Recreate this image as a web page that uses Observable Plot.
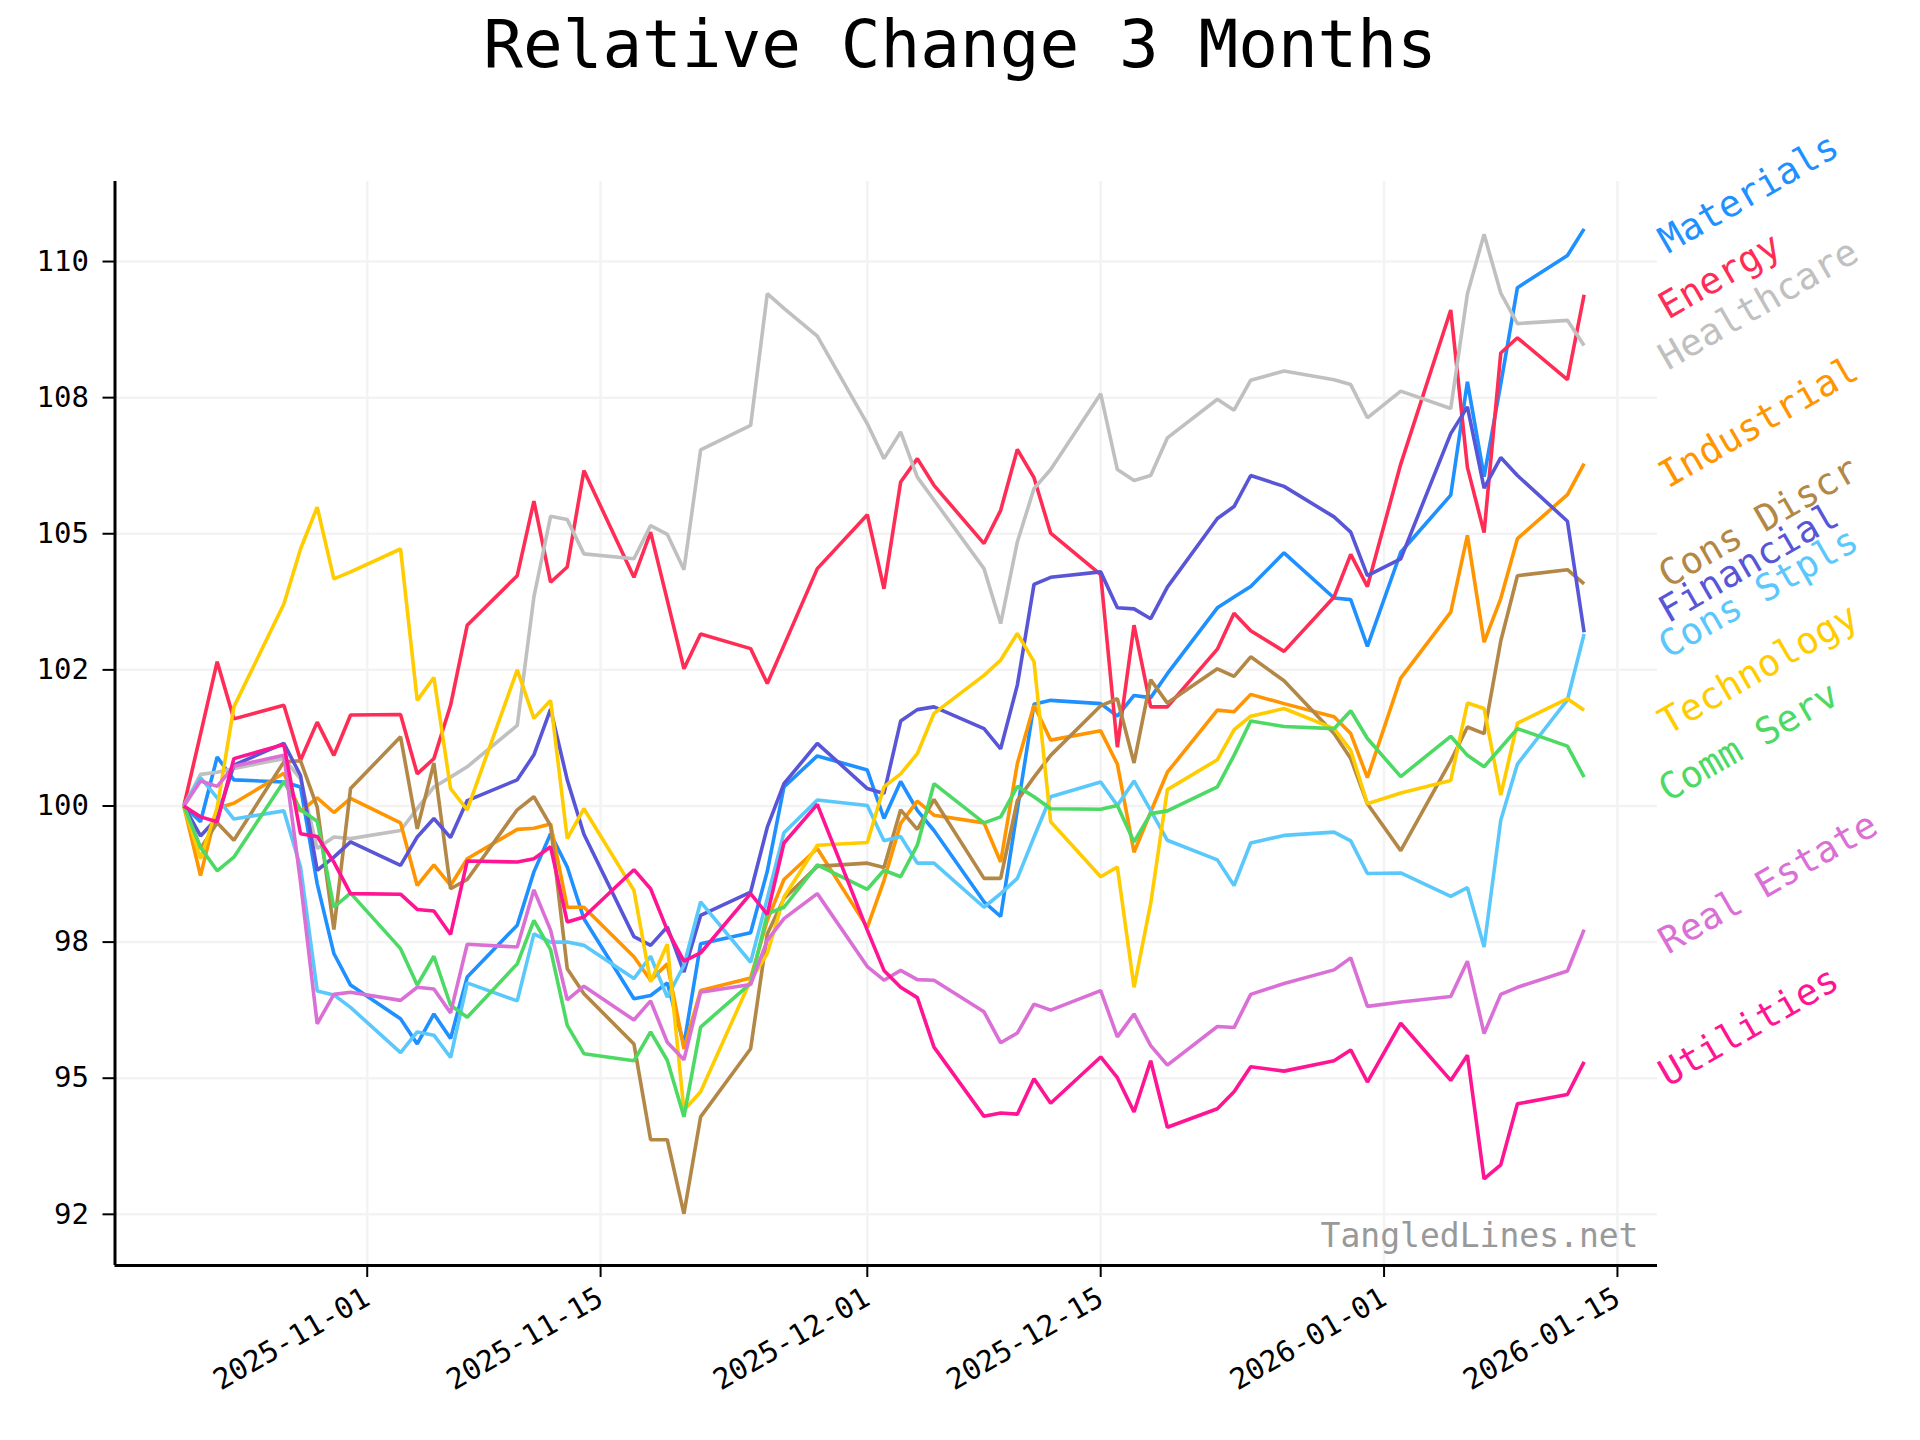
<!DOCTYPE html>
<html>
<head>
<meta charset="utf-8">
<script src="https://cdn.jsdelivr.net/npm/d3@7"></script>
<script src="https://cdn.jsdelivr.net/npm/@observablehq/plot@0.6"></script>
<style>
  html, body { margin: 0; padding: 0; background: #ffffff; }
  #wrap { width: 1920px; }
  #title { height: 120px; line-height: 90px; text-align: center; font-family: "DejaVu Sans Mono", monospace; font-size: 66px; color: #000; }
</style>
</head>
<body>
<div id="wrap">
  <div id="title">Relative Change 3 Months</div>
  <div id="chart"></div>
</div>
<script>
const dates = ["2025-10-21","2025-10-22","2025-10-23","2025-10-24","2025-10-27","2025-10-28","2025-10-29","2025-10-30","2025-10-31",
"2025-11-03","2025-11-04","2025-11-05","2025-11-06","2025-11-07","2025-11-10","2025-11-11","2025-11-12","2025-11-13","2025-11-14",
"2025-11-17","2025-11-18","2025-11-19","2025-11-20","2025-11-21","2025-11-24","2025-11-25","2025-11-26","2025-11-28",
"2025-12-01","2025-12-02","2025-12-03","2025-12-04","2025-12-05","2025-12-08","2025-12-09","2025-12-10","2025-12-11","2025-12-12",
"2025-12-15","2025-12-16","2025-12-17","2025-12-18","2025-12-19","2025-12-22","2025-12-23","2025-12-24","2025-12-26",
"2025-12-29","2025-12-30","2025-12-31","2026-01-02","2026-01-05","2026-01-06","2026-01-07","2026-01-08","2026-01-09","2026-01-12","2026-01-13"];

const seriesNames = ["Materials","Energy","Healthcare","Industrial","Cons Discr","Financial","Cons Stpls","Technology","Comm Serv","Real Estate","Utilities"];
const seriesColors = ["#1E90FF","#FF2D55","#C0C0C0","#FF9500","#B38746","#5856D6","#5AC8FA","#FFCC00","#4CD964","#DA70D6","#FF1493"];

const materials = [100,99.71,100.90,100.48,100.44,100.35,98.57,97.29,96.71,96.09,95.63,96.18,95.73,96.86,97.81,98.79,99.49,98.88,97.93,96.46,96.52,96.75,95.62,97.47,97.67,98.80,100.35,100.92,100.66,99.77,100.45,99.92,99.55,98.24,97.97,99.93,101.87,101.94,101.88,101.65,102.03,101.99,102.43,103.64,103.84,104.03,104.65,103.82,103.79,102.93,104.66,105.71,107.79,106.05,107.75,109.52,110.11,110.60];
const energy = [100,101.32,102.65,101.60,101.85,100.84,101.54,100.93,101.67,101.68,100.59,100.87,101.85,103.32,104.23,105.60,104.11,104.39,106.16,104.20,105.03,103.78,102.52,103.16,102.89,102.25,102.95,104.36,105.35,103.99,105.95,106.38,105.89,104.82,105.43,106.55,106.03,105.01,104.25,101.08,103.32,101.82,101.82,102.88,103.54,103.22,102.84,103.84,104.62,104.03,106.28,109.11,106.22,105.02,108.32,108.60,107.83,109.39];
const healthcare = [100,100.58,100.62,100.69,100.87,100.50,99.22,99.43,99.40,99.55,99.95,100.35,100.53,100.72,101.48,103.84,105.32,105.26,104.63,104.54,105.15,104.99,104.34,106.54,106.99,109.41,109.14,108.63,107.02,106.38,106.87,106.04,105.62,104.36,103.35,104.85,105.83,106.18,107.57,106.18,105.98,106.07,106.76,107.47,107.27,107.82,107.99,107.83,107.74,107.13,107.62,107.30,109.41,110.50,109.42,108.86,108.92,108.46];
const industrial = [100,98.72,99.96,100.05,100.60,99.90,100.15,99.88,100.14,99.69,98.54,98.92,98.54,99.03,99.57,99.59,99.67,98.14,98.14,97.23,96.80,97.10,95.54,96.61,96.84,97.90,98.65,99.22,97.77,98.63,99.68,100.09,99.83,99.69,98.97,100.78,101.85,101.21,101.38,100.77,99.15,99.89,100.62,101.76,101.73,102.05,101.88,101.64,101.33,100.52,102.35,103.56,104.97,103.01,103.81,104.91,105.72,106.29];
const consDiscr = [100,99.22,99.69,99.37,100.81,100.83,99.98,97.73,100.32,101.27,99.58,100.79,98.48,98.65,99.93,100.17,99.64,97.01,96.55,95.63,93.87,93.87,92.51,94.29,95.54,97.65,98.30,98.89,98.95,98.87,99.93,99.57,100.12,98.67,98.67,100.10,100.53,100.93,101.84,101.97,100.79,102.32,101.89,102.52,102.38,102.74,102.30,101.33,100.87,100.04,99.18,100.83,101.45,101.33,103.03,104.23,104.34,104.08];
const financial = [100,99.45,99.78,100.75,101.15,100.56,98.82,99.06,99.34,98.91,99.43,99.77,99.42,100.10,100.48,100.94,101.78,100.48,99.48,97.60,97.44,97.78,96.95,97.99,98.42,99.61,100.41,101.15,100.32,100.23,101.56,101.77,101.82,101.42,101.05,102.22,104.07,104.20,104.30,103.64,103.62,103.44,104.02,105.28,105.50,106.07,105.87,105.31,105.03,104.23,104.54,106.84,107.33,105.84,106.40,106.07,105.23,103.19];
const consStpls = [100,100.52,100.15,99.76,99.91,98.88,96.60,96.53,96.30,95.47,95.85,95.79,95.38,96.75,96.42,97.65,97.50,97.50,97.44,96.83,97.24,96.49,97.07,98.24,97.13,98.30,99.51,100.11,100.01,99.36,99.44,98.95,98.95,98.14,98.39,98.67,99.43,100.17,100.44,100.01,100.46,99.92,99.37,99.01,98.54,99.32,99.46,99.52,99.36,98.76,98.77,98.34,98.50,97.41,99.74,100.77,101.95,103.16];
const technology = [100,99.03,99.97,101.82,103.71,104.72,105.49,104.17,104.30,104.72,101.94,102.36,100.32,99.93,102.50,101.61,101.94,99.40,99.95,98.45,96.77,97.46,94.41,94.75,96.80,97.29,98.33,99.28,99.33,100.35,100.59,100.96,101.70,102.40,102.68,103.17,102.65,99.71,98.70,98.88,96.67,98.21,100.30,100.85,101.40,101.65,101.79,101.42,101.02,100.04,100.24,100.47,101.89,101.79,100.20,101.52,101.97,101.76];
const commServ = [100,99.24,98.81,99.06,100.45,99.93,99.72,98.14,98.40,97.38,96.71,97.24,96.34,96.12,97.10,97.90,97.36,95.97,95.45,95.32,95.85,95.33,94.29,95.94,96.74,98.02,98.14,98.92,98.47,98.82,98.70,99.28,100.41,99.69,99.80,100.36,100.17,99.95,99.94,100.01,99.34,99.86,99.91,100.35,100.93,101.56,101.46,101.42,101.75,101.24,100.54,101.28,100.93,100.72,101.07,101.42,101.10,100.53];
const realEstate = [100,100.46,100.36,100.73,100.93,98.60,96.00,96.54,96.58,96.43,96.67,96.64,96.20,97.46,97.41,98.46,97.72,96.44,96.69,96.07,96.42,95.66,95.34,96.58,96.72,97.53,97.93,98.39,97.05,96.80,96.98,96.81,96.80,96.22,95.65,95.83,96.36,96.25,96.61,95.76,96.18,95.60,95.24,95.95,95.93,96.54,96.74,96.99,97.21,96.32,96.40,96.50,97.15,95.82,96.54,96.67,96.97,97.73];
const utilities = [100,99.80,99.71,100.87,101.13,99.49,99.44,98.97,98.39,98.38,98.10,98.07,97.64,98.99,98.97,99.03,99.25,97.87,97.96,98.83,98.48,97.72,97.15,97.30,98.39,98.01,99.32,100.03,97.72,96.98,96.67,96.48,95.57,94.30,94.36,94.34,94.99,94.54,95.39,95.01,94.38,95.32,94.10,94.44,94.75,95.21,95.13,95.32,95.52,94.93,96.01,94.96,95.42,93.15,93.41,94.53,94.70,95.30];

const yTicks = [92.5, 95, 97.5, 100, 102.5, 105, 107.5, 110];
const yTickLabels = ["92","95","98","100","102","105","108","110"];
const xTicks = ["2025-11-01","2025-11-15","2025-12-01","2025-12-15","2026-01-01","2026-01-15"];
const xTickLabels = ["2025-11-01","2025-11-15","2025-12-01","2025-12-15","2026-01-01","2026-01-15"];
const xDomain = ["2025-10-16T20:53:00Z","2026-01-17T09:40:00Z"];
const yDomain = [91.56, 111.47];
const watermark = "TangledLines.net";

const seriesValues = [materials, energy, healthcare, industrial, consDiscr, financial, consStpls, technology, commServ, realEstate, utilities];

const parsedDates = dates.map(d => new Date(d + "T00:00:00Z"));
const data = [];
seriesNames.forEach((name, k) => {
  seriesValues[k].forEach((v, i) => data.push({date: parsedDates[i], value: v, series: name}));
});

// end labels, spread apart from the bottom upwards
const lastDate = parsedDates[parsedDates.length - 1];
const ends = seriesNames.map((name, k) => ({series: name, value: seriesValues[k][seriesValues[k].length - 1]}))
  .sort((a, b) => a.value - b.value);
const minGap = 0.65;
ends.forEach((e, i) => { e.labelY = i === 0 ? e.value : Math.max(e.value, ends[i - 1].labelY + minGap); e.date = lastDate; });

const yLabelMap = new Map(yTicks.map((t, i) => [t, yTickLabels[i]]));
const xTickDates = xTicks.map(d => new Date(d + "T00:00:00Z"));
const xLabelMap = new Map(xTickDates.map((t, i) => [t.getTime(), xTickLabels[i]]));

const chart = Plot.plot({
  width: 1920,
  height: 1320,
  marginLeft: 114.5,
  marginRight: 263,
  marginTop: 61,
  marginBottom: 175,
  style: {fontFamily: "DejaVu Sans Mono, monospace", fontSize: "29px", background: "#ffffff", color: "#000", overflow: "visible"},
  x: {type: "utc", domain: xDomain.map(d => new Date(d)), label: null},
  y: {domain: yDomain, label: null},
  color: {domain: seriesNames, range: seriesColors},
  marks: [
    Plot.gridX(xTickDates, {stroke: "#f3f3f3", strokeOpacity: 1, strokeWidth: 2.5}),
    Plot.gridY(yTicks, {stroke: "#f3f3f3", strokeOpacity: 1, strokeWidth: 2.5}),
    Plot.lineY(data, {x: "date", y: "value", z: "series", stroke: "series", strokeWidth: 3.6, strokeLinejoin: "miter", strokeLinecap: "butt"}),
    Plot.text([watermark], {frameAnchor: "bottom-right", text: d => d, dx: -19, dy: -19, fill: "#999999", fontSize: 33}),
    Plot.ruleX([new Date(xDomain[0])], {stroke: "#000", strokeWidth: 3}),
    Plot.ruleY([yDomain[0]], {stroke: "#000", strokeWidth: 3}),
    Plot.axisY(yTicks, {tickSize: 12, tickPadding: 14, strokeWidth: 2, fontSize: 29, fill: "#000", tickFormat: d => yLabelMap.get(d)}),
    Plot.axisX(xTickDates, {tickSize: 12, tickPadding: 18, strokeWidth: 2, fontSize: 29, fill: "#000", tickRotate: -30, tickFormat: d => xLabelMap.get(d.getTime())}),
    Plot.text(ends, {x: "date", y: "labelY", text: "series", fill: "series", rotate: -30, textAnchor: "start", lineAnchor: "middle", dx: 78, dy: 15, fontSize: 37})
  ]
});
document.getElementById("chart").appendChild(chart);
</script>
</body>
</html>
